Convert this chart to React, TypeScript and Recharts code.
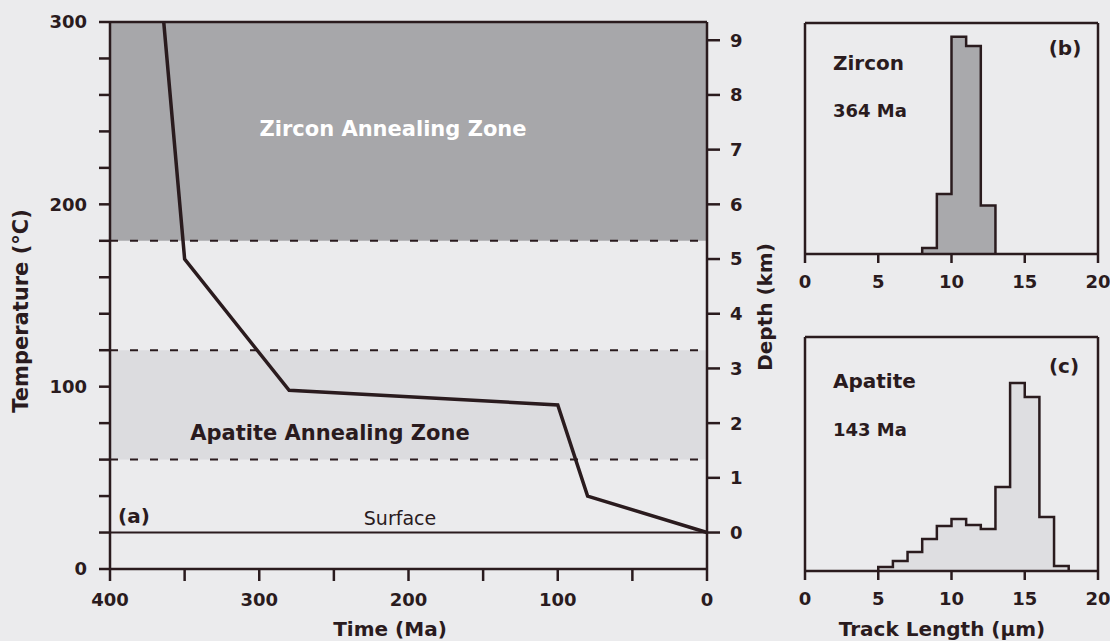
import React from "react";
import {
  ComposedChart,
  Line,
  Area,
  XAxis,
  YAxis,
  ReferenceArea,
  ReferenceLine,
} from "recharts";

// (a) thermal history path
const pathTimes = [364, 350, 280, 100, 80, 0];
const pathTemps = [300, 170, 98, 90, 40, 20];

// annealing zones (°C)
const zirconZone = [180, 300];
const apatiteZone = [60, 120];
const surfaceTemp = 20;
const gradient = 30; // °C per km

const timeTicks = [0, 50, 100, 150, 200, 250, 300, 350, 400];
const tempTicks = [0, 20, 40, 60, 80, 100, 120, 140, 160, 180, 200, 220, 240, 260, 280, 300];
const depthTicks = [0, 1, 2, 3, 4, 5, 6, 7, 8, 9];

// (b) zircon track lengths (bin start, µm) and frequencies
const zirconBins = [8, 9, 10, 11, 12];
const zirconFreq = [2.6, 26, 94, 90, 21];

// (c) apatite track lengths
const apatiteBins = [5, 6, 7, 8, 9, 10, 11, 12, 13, 14, 15, 16, 17];
const apatiteFreq = [1.7, 4.3, 8.1, 13.7, 19.2, 22.2, 19.7, 17.9, 35.9, 80.3, 74.4, 23.1, 2.1];

const lengthTicks = [0, 5, 10, 15, 20];

const INK = "#2a1b1e";
const BG = "#ebebed";
const FONT = "'DejaVu Sans', sans-serif";

const tickStyle = { fill: INK, fontSize: 18, fontWeight: "bold" as const, fontFamily: FONT };

// depth on the right axis follows from the geothermal gradient
const pathData = pathTimes.map((t, i) => ({
  time: t,
  temp: pathTemps[i],
  depth: (pathTemps[i] - surfaceTemp) / gradient,
}));

// step outline for a histogram with 1 µm bins
const stepData = (bins: number[], freq: number[]) => {
  const pts = [{ len: bins[0], f: 0 }];
  bins.forEach((b, i) => pts.push({ len: b, f: freq[i] }));
  pts.push({ len: bins[bins.length - 1] + 1, f: 0 });
  return pts;
};

const Txt: React.FC<{
  x: number;
  y: number;
  size?: number;
  bold?: boolean;
  color?: string;
  rotate?: boolean;
  anchor?: "start" | "middle";
  children: React.ReactNode;
}> = ({ x, y, size = 20, bold = true, color = INK, rotate, anchor = "middle", children }) => (
  <div
    style={{
      position: "absolute",
      left: x,
      top: y,
      transform: `translate(${anchor === "middle" ? "-50%" : "0"},-50%)${rotate ? " rotate(-90deg)" : ""}`,
      fontFamily: FONT,
      fontSize: size,
      fontWeight: bold ? "bold" : "normal",
      color,
      lineHeight: 1,
      whiteSpace: "nowrap",
    }}
  >
    {children}
  </div>
);

const Histogram: React.FC<{ bins: number[]; freq: number[]; fill: string; top: number; height: number; marginTop: number }> = ({
  bins,
  freq,
  fill,
  top,
  height,
  marginTop,
}) => (
  <div style={{ position: "absolute", left: 785, top }}>
    <ComposedChart
      width={325}
      height={height}
      data={stepData(bins, freq)}
      margin={{ top: marginTop, right: 12, bottom: 0, left: 20 }}
    >
      <XAxis
        dataKey="len"
        type="number"
        domain={[0, 20]}
        ticks={lengthTicks}
        height={46}
        tickSize={9}
        tickMargin={12}
        axisLine={{ stroke: INK, strokeWidth: 2.5 }}
        tickLine={{ stroke: INK, strokeWidth: 2.5 }}
        tick={tickStyle}
      />
      <YAxis hide width={0} domain={[0, 100]} />
      <ReferenceLine x={0} stroke={INK} strokeWidth={2.5} />
      <ReferenceLine x={20} stroke={INK} strokeWidth={2.5} />
      <ReferenceLine y={100} stroke={INK} strokeWidth={2.5} />
      <Area
        type="stepAfter"
        dataKey="f"
        stroke={INK}
        strokeWidth={2.5}
        fill={fill}
        fillOpacity={1}
        isAnimationActive={false}
      />
    </ComposedChart>
  </div>
);

export default function App() {
  return (
    <div style={{ position: "absolute", left: 0, top: 0, width: 1110, height: 641, background: BG, overflow: "hidden" }}>
      <div style={{ position: "absolute", left: 0, top: 0 }}>
        <ComposedChart width={790} height={641} data={pathData} margin={{ top: 22, right: 0, bottom: 0, left: 0 }}>
          <XAxis
            dataKey="time"
            type="number"
            domain={[0, 400]}
            reversed
            ticks={timeTicks}
            tickFormatter={(v: number) => (v % 100 === 0 ? String(v) : "")}
            height={72}
            tickSize={12}
            tickMargin={12}
            axisLine={{ stroke: INK, strokeWidth: 2.5 }}
            tickLine={{ stroke: INK, strokeWidth: 2.5 }}
            tick={tickStyle}
          />
          <YAxis
            yAxisId="left"
            type="number"
            domain={[0, 300]}
            ticks={tempTicks}
            tickFormatter={(v: number) => (v % 100 === 0 ? String(v) : "")}
            width={110}
            tickSize={11}
            tickMargin={12}
            axisLine={{ stroke: INK, strokeWidth: 2.5 }}
            tickLine={{ stroke: INK, strokeWidth: 2.5 }}
            tick={tickStyle}
          />
          <YAxis
            yAxisId="right"
            orientation="right"
            type="number"
            domain={[(0 - surfaceTemp) / gradient, (300 - surfaceTemp) / gradient]}
            allowDataOverflow
            ticks={depthTicks}
            interval={0}
            width={83}
            tickSize={13}
            tickMargin={10}
            axisLine={{ stroke: INK, strokeWidth: 2.5 }}
            tickLine={{ stroke: INK, strokeWidth: 2.5 }}
            tick={tickStyle}
          />
          <ReferenceArea yAxisId="left" y1={zirconZone[0]} y2={zirconZone[1]} fill="#a7a7aa" fillOpacity={1} stroke="none" />
          <ReferenceArea yAxisId="left" y1={apatiteZone[0]} y2={apatiteZone[1]} fill="#dcdcdf" fillOpacity={1} stroke="none" />
          <ReferenceLine yAxisId="left" y={zirconZone[0]} stroke={INK} strokeWidth={2} strokeDasharray="8 12" />
          <ReferenceLine yAxisId="left" y={apatiteZone[1]} stroke={INK} strokeWidth={2} strokeDasharray="8 12" />
          <ReferenceLine yAxisId="left" y={apatiteZone[0]} stroke={INK} strokeWidth={2} strokeDasharray="8 12" />
          <ReferenceLine yAxisId="left" y={surfaceTemp} stroke={INK} strokeWidth={2} />
          <ReferenceLine yAxisId="left" y={300} stroke={INK} strokeWidth={2.5} />
          {/* same path on the depth axis, invisible: it only binds the right axis */}
          <Line
            yAxisId="right"
            type="linear"
            dataKey="depth"
            stroke="none"
            strokeOpacity={0}
            dot={false}
            activeDot={false}
            legendType="none"
            isAnimationActive={false}
          />
          <Line
            yAxisId="left"
            type="linear"
            dataKey="temp"
            stroke={INK}
            strokeWidth={3.5}
            dot={false}
            isAnimationActive={false}
          />
        </ComposedChart>
      </div>

      <Histogram bins={zirconBins} freq={zirconFreq} fill="#a9a9ac" top={0} height={300} marginTop={23} />
      <Histogram bins={apatiteBins} freq={apatiteFreq} fill="#dedee1" top={300} height={317} marginTop={37} />

      {/* panel (a) text */}
      <Txt x={21} y={311} size={21} rotate>Temperature (°C)</Txt>
      <Txt x={390} y={629}>Time (Ma)</Txt>
      <Txt x={765} y={307} rotate>Depth (km)</Txt>
      <Txt x={393} y={129} size={21} color="#ffffff">Zircon Annealing Zone</Txt>
      <Txt x={330} y={433} size={21}>Apatite Annealing Zone</Txt>
      <Txt x={118} y={516} anchor="start">(a)</Txt>
      <Txt x={400} y={518} size={19} bold={false}>Surface</Txt>

      {/* panel (b) */}
      <Txt x={833} y={63} anchor="start">Zircon</Txt>
      <Txt x={833} y={111} size={18} anchor="start">364 Ma</Txt>
      <Txt x={1065} y={48}>(b)</Txt>

      {/* panel (c) */}
      <Txt x={833} y={381} anchor="start">Apatite</Txt>
      <Txt x={833} y={430} size={18} anchor="start">143 Ma</Txt>
      <Txt x={1064} y={366}>(c)</Txt>
      <Txt x={942} y={629}>Track Length (µm)</Txt>
    </div>
  );
}
